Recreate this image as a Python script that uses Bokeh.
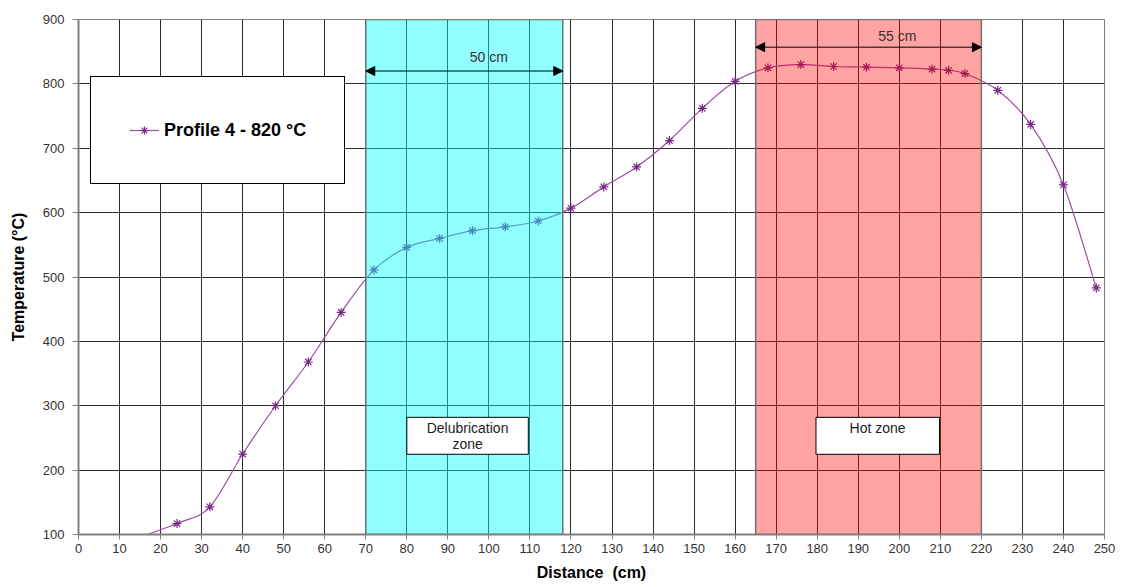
import numpy as np
from bokeh.plotting import figure
from bokeh.models import (Range1d, Legend, LegendItem, Arrow, NormalHead, Label,
                          BoxAnnotation, FixedTicker, ColumnDataSource)
from bokeh.embed import file_html
from bokeh.resources import INLINE

# ---------------- data ----------------
distance_cm = [8, 24, 32, 40, 48, 56, 64, 72, 80, 88, 96, 104, 112, 120, 128, 136,
               144, 152, 160, 168, 176, 184, 192, 200, 208, 212, 216, 224, 232, 240, 248]
temperature_c = [80, 117, 143, 225, 300, 368, 445, 511, 546, 560, 572, 578, 587, 607, 640, 671,
                 712, 762, 804, 825, 830, 827, 826, 825, 823, 821, 816, 790, 737, 643, 483]
series_name = "Profile 4 - 820 °C"

zone_names = ["Delubrication zone", "Hot zone"]
zone_start = [70, 165]
zone_end = [118, 220]
zone_lengths = ["50 cm", "55 cm"]

x_ticks = list(range(0, 251, 10))
y_ticks = list(range(100, 901, 100))

# ---------------- figure ----------------
p = figure(width=1121, height=587, x_range=Range1d(0, 250), y_range=Range1d(100, 900),
           output_backend="svg", toolbar_location=None,
           min_border_left=78, min_border_right=17, min_border_top=19, min_border_bottom=53)
p.background_fill_color = "white"
p.border_fill_color = "white"
p.outline_line_color = "#808080"
p.outline_line_width = 1

font = "Liberation Sans"

for ax in (p.xaxis[0], p.yaxis[0]):
    ax.axis_line_color = "#808080"
    ax.axis_line_width = 2
    ax.major_tick_line_color = "#808080"
    ax.major_tick_in = 0
    ax.minor_tick_line_color = None
    ax.major_label_text_font = font
    ax.major_label_text_font_size = "13px"
    ax.major_label_text_color = "#333333"
    ax.axis_label_text_font = font
    ax.axis_label_text_font_style = "bold"
    ax.axis_label_text_font_size = "16px"
    ax.axis_label_text_color = "#000000"

p.xaxis[0].ticker = FixedTicker(ticks=x_ticks)
p.yaxis[0].ticker = FixedTicker(ticks=y_ticks)
p.xaxis[0].major_tick_out = 5
p.yaxis[0].major_tick_out = 6
p.xaxis[0].major_label_standoff = 4
p.yaxis[0].major_label_standoff = 8
p.xaxis[0].axis_label = "Distance\u00a0 (cm)"
p.yaxis[0].axis_label = "Temperature (°C)"
p.xaxis[0].axis_label_standoff = 8
p.yaxis[0].axis_label_standoff = 13

p.xgrid[0].ticker = FixedTicker(ticks=x_ticks)
p.ygrid[0].ticker = FixedTicker(ticks=y_ticks)
for g in (p.xgrid[0], p.ygrid[0]):
    g.grid_line_color = "#2a2a2a"
    g.grid_line_width = 1
    g.grid_line_alpha = 1

# ---------------- smoothed curve (Bezier segments through the data) ----------------
xs = np.array(distance_cm, dtype=float)
ys = np.array(temperature_c, dtype=float)
n = len(xs)
i = np.arange(n - 1)
ip = np.maximum(i - 1, 0)
inn = np.minimum(i + 2, n - 1)
cx0 = xs[i] + (xs[i + 1] - xs[ip]) / 6.0
cy0 = ys[i] + (ys[i + 1] - ys[ip]) / 6.0
cx1 = xs[i + 1] - (xs[inn] - xs[i]) / 6.0
cy1 = ys[i + 1] - (ys[inn] - ys[i]) / 6.0
curve_src = ColumnDataSource(dict(x0=xs[:-1], y0=ys[:-1], x1=xs[1:], y1=ys[1:],
                                  cx0=cx0, cy0=cy0, cx1=cx1, cy1=cy1))
curve = p.bezier(x0="x0", y0="y0", x1="x1", y1="y1", cx0="cx0", cy0="cy0",
                 cx1="cx1", cy1="cy1", source=curve_src,
                 line_color="#9a4fa0", line_width=1.2)
pts = p.scatter(distance_cm, temperature_c, marker="asterisk", size=9,
                line_color="#7a2a86", line_width=1.2)

# ---------------- zones (translucent, on top of curve) ----------------
zone_src = ColumnDataSource(dict(left=zone_start, right=zone_end,
                                 bottom=[100, 100], top=[900, 900],
                                 color=["#00ffff", "#ff0000"], alpha=[0.44, 0.36]))
p.quad(left="left", right="right", bottom="bottom", top="top", source=zone_src,
       fill_color="color", fill_alpha="alpha", line_color="#707070", line_width=1.5)

# dimension arrows
arrow_y = [820, 857]
label_y = [841, 874]
label_shift = [6, 7]
for s, e, ay, ly, dx, txt in zip(zone_start, zone_end, arrow_y, label_y, label_shift, zone_lengths):
    p.add_layout(Arrow(start=NormalHead(size=9, fill_color="black", line_color="black"),
                       end=NormalHead(size=9, fill_color="black", line_color="black"),
                       x_start=s, y_start=ay, x_end=e, y_end=ay,
                       line_color="black", line_width=1))
    p.add_layout(Label(x=(s + e) / 2 + dx, y=ly, text=txt,
                       text_font=font, text_font_size="14px", text_color="#333333",
                       text_align="center", text_baseline="middle"))

# zone name boxes
box_lr = [(80, 109.6), (179.7, 209.8)]
for (l, r) in box_lr:
    p.add_layout(BoxAnnotation(left=l, right=r, bottom=224.6, top=282,
                               fill_color="white", fill_alpha=1,
                               line_color="black", line_width=1, line_alpha=1))
p.add_layout(Label(x=94.8, y=265, text="Delubrication", text_font=font,
                   text_font_size="14px", text_color="#222222",
                   text_align="center", text_baseline="middle"))
p.add_layout(Label(x=94.8, y=240, text="zone", text_font=font,
                   text_font_size="14px", text_color="#222222",
                   text_align="center", text_baseline="middle"))
p.add_layout(Label(x=194.7, y=265, text="Hot zone", text_font=font,
                   text_font_size="14px", text_color="#222222",
                   text_align="center", text_baseline="middle"))

# ---------------- legend ----------------
legend = Legend(items=[LegendItem(label=series_name, renderers=[curve, pts])],
                location=(12, 350), margin=0, padding=38, label_height=30,
                glyph_width=30, glyph_height=20, label_standoff=5,
                label_text_font=font, label_text_font_size="18px",
                label_text_font_style="bold", label_text_color="black",
                border_line_color="black", border_line_width=1, border_line_alpha=1,
                background_fill_color="white", background_fill_alpha=1)
p.add_layout(legend, "center")

open("out.html", "w").write(file_html(p, INLINE))
